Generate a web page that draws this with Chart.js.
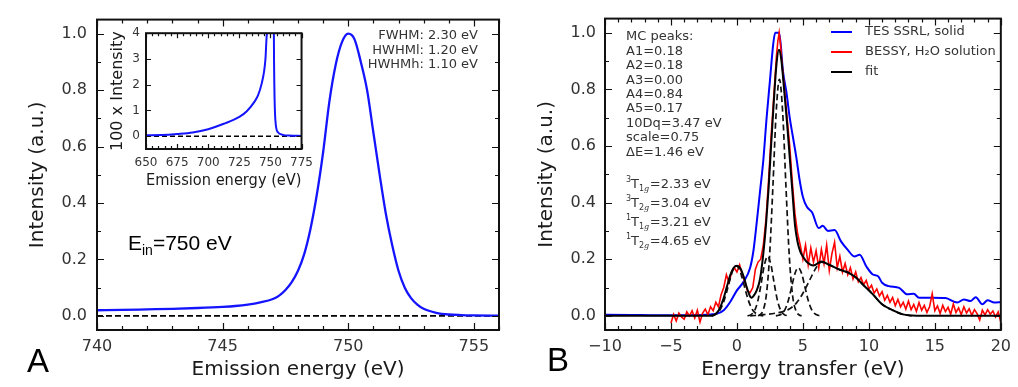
<!DOCTYPE html>
<html>
<head>
<meta charset="utf-8">
<script src="https://cdn.jsdelivr.net/npm/chart.js@4.4.1/dist/chart.umd.min.js"></script>
<style>
  html, body { margin: 0; padding: 0; background: #fff; }
  #wrap { position: relative; width: 1018px; height: 387px; }
  canvas { position: absolute; }
</style>
</head>
<body>
<div id="wrap">
  <canvas id="panelA" width="509" height="387" style="left:0;top:0"></canvas>
  <canvas id="inset" width="220" height="175" style="left:100px;top:20px"></canvas>
  <canvas id="panelB" width="509" height="387" style="left:509px;top:0"></canvas>
</div>
<script>
// ---- panel A: emission spectrum at Ein = 750 eV
const energyA = [740, 741, 742, 743, 744, 745, 745.5, 746, 746.5, 747, 747.25, 747.5, 747.75, 748, 748.25, 748.5, 748.75, 749, 749.25, 749.5, 749.75, 750, 750.25, 750.5, 750.75, 751, 751.25, 751.5, 751.75, 752, 752.25, 752.5, 752.75, 753, 753.5, 754, 754.5, 755, 756];
const intensityA = [0.020, 0.021, 0.023, 0.025, 0.028, 0.032, 0.035, 0.040, 0.048, 0.060, 0.072, 0.092, 0.12, 0.16, 0.22, 0.31, 0.43, 0.58, 0.76, 0.89, 0.97, 1.0, 0.98, 0.90, 0.80, 0.65, 0.50, 0.36, 0.25, 0.16, 0.10, 0.063, 0.040, 0.025, 0.011, 0.005, 0.003, 0.002, 0.001];
const ticksAx = [740, 745, 750, 755];
const ticksAy = [0, 0.2, 0.4, 0.6, 0.8, 1.0];

// ---- inset: 100 x intensity over a wide range
const insetEnergy = [650, 662.5, 675, 687.5, 700, 712.5, 725, 731, 737.5, 740, 743, 745, 746, 747, 747.5, 748.5, 750, 751.5, 752.5, 753, 754, 756, 760, 765, 775];
const insetIntensity = [0.03, 0.04, 0.08, 0.14, 0.27, 0.48, 0.75, 0.97, 1.36, 1.58, 2.05, 2.55, 3.0, 3.9, 4.8, 30, 100, 30, 6, 2.5, 0.6, 0.15, 0.05, 0.02, 0.01];
const ticksInsetX = [650, 675, 700, 725, 750, 775];
const ticksInsetY = [0, 1, 2, 3, 4];

// ---- panel B: energy transfer spectra
const tesX = [-10, -8, -6, -4, -3, -2, -1.5, -1, -0.5, 0, 0.5, 1, 1.25, 1.5, 1.75, 2, 2.25, 2.5, 2.75, 2.9, 3.2, 3.5, 3.75, 4, 4.25, 4.5, 4.75, 5, 5.3, 5.7, 6.2, 6.5, 6.9, 7.4, 7.9, 8.4, 8.9, 9.3, 9.8, 10.3, 10.7, 11, 11.5, 12.3, 12.9, 13.4, 13.8, 14.8, 15.8, 16.7, 17.2, 17.7, 18.1, 18.6, 19, 19.5, 20];
const tesY = [0.004, 0.003, 0.002, 0.002, 0.003, 0.005, 0.008, 0.02, 0.05, 0.09, 0.12, 0.17, 0.23, 0.33, 0.44, 0.55, 0.70, 0.83, 0.96, 1.0, 1.0, 0.86, 0.79, 0.70, 0.63, 0.56, 0.48, 0.42, 0.385, 0.365, 0.31, 0.318, 0.30, 0.303, 0.262, 0.233, 0.21, 0.216, 0.175, 0.146, 0.14, 0.117, 0.105, 0.099, 0.076, 0.078, 0.064, 0.064, 0.063, 0.047, 0.058, 0.052, 0.066, 0.041, 0.055, 0.047, 0.048];

const bessyX = [-5, -4.8, -4.6, -4.4, -4.2, -4, -3.8, -3.6, -3.4, -3.2, -3, -2.8, -2.6, -2.4, -2.2, -2, -1.8, -1.6, -1.4, -1.2, -1, -0.8, -0.6, -0.4, -0.2, 0, 0.2, 0.4, 0.6, 0.8, 1, 1.2, 1.4, 1.6, 1.8, 2, 2.2, 2.4, 2.6, 2.8, 3, 3.1, 3.2, 3.3, 3.4, 3.6, 3.8, 4, 4.2, 4.4, 4.6, 4.8,
  5, 5.2, 5.4, 5.6, 5.8, 6, 6.2, 6.4, 6.6, 6.8, 7, 7.2, 7.4, 7.6, 7.8, 8, 8.2, 8.4, 8.6, 8.8, 9, 9.2, 9.4, 9.6, 9.8, 10, 10.2, 10.4, 10.6, 10.8, 11, 11.2, 11.4, 11.6, 11.8, 12, 12.2, 12.4, 12.6, 12.8, 13, 13.2, 13.4, 13.6, 13.8, 14, 14.2, 14.4, 14.6, 14.8, 15, 15.2, 15.4, 15.6, 15.8, 16, 16.2, 16.4, 16.6, 16.8, 17, 17.2, 17.4, 17.6, 17.8, 18, 18.2, 18.4, 18.6, 18.8, 19, 19.2, 19.4, 19.6, 19.8, 20];
const bessyY = [-0.025, 0.005, -0.018, 0.01, -0.004, -0.012, 0.014, 0.0, 0.018, -0.008, 0.02, -0.022, 0.01, 0.024, 0.004, 0.032, 0.018, 0.048, 0.032, 0.075, 0.1, 0.145, 0.118, 0.155, 0.17, 0.155, 0.18, 0.148, 0.12, 0.088, 0.082, 0.1, 0.165, 0.19, 0.2, 0.25, 0.34, 0.48, 0.64, 0.78, 0.92, 0.97, 1.0, 0.96, 0.9, 0.8, 0.7, 0.6, 0.47, 0.36, 0.29, 0.25,
  0.2, 0.25, 0.18, 0.24, 0.19, 0.23, 0.17, 0.235, 0.185, 0.25, 0.16, 0.22, 0.26, 0.17, 0.21, 0.155, 0.185, 0.145, 0.17, 0.13, 0.155, 0.12, 0.135, 0.11, 0.125, 0.095, 0.108, 0.08, 0.095, 0.07, 0.085, 0.055, 0.072, 0.048, 0.065, 0.036, 0.058, 0.032, 0.048, 0.024, 0.052, 0.022, 0.04, 0.016, 0.047, 0.02, 0.037, 0.012, 0.032, 0.078, 0.018, 0.035, 0.008, 0.037, 0.015, 0.03, 0.006, 0.042, 0.012, 0.028, 0.004, 0.032, 0.01, 0.025, 0.002, 0.022, 0.008, -0.015, 0.02, 0.003, 0.022, 0.006, 0.017, -0.004, 0.014, -0.022];

const fitX = [-10, -2, -1.75, -1.5, -1.25, -1, -0.75, -0.5, -0.25, 0, 0.25, 0.5, 0.75, 1, 1.1, 1.25, 1.5, 1.75, 2, 2.2, 2.4, 2.6, 2.8, 3, 3.18, 3.35, 3.5, 3.65, 3.8, 4, 4.2, 4.4, 4.6, 4.8, 5, 5.3, 5.8, 6.4, 7, 7.8, 8.5, 9, 9.6, 10.3, 11, 11.8, 12.5, 13.3, 14, 20];
const fitY = [0, 0, 0.003, 0.012, 0.032, 0.064, 0.105, 0.145, 0.17, 0.177, 0.168, 0.14, 0.1, 0.068, 0.064, 0.07, 0.09, 0.13, 0.22, 0.32, 0.45, 0.61, 0.76, 0.89, 0.94, 0.91, 0.84, 0.76, 0.68, 0.56, 0.44, 0.32, 0.26, 0.227, 0.21, 0.19, 0.178, 0.192, 0.18, 0.163, 0.151, 0.136, 0.108, 0.076, 0.041, 0.02, 0.006, 0.001, 0, 0];

// multiplet components (dashed)
const peak1X = [-1.9, -1.6, -1.3, -1.05, -0.8, -0.55, -0.3, -0.05, 0.2, 0.45, 0.7, 0.95, 1.2, 1.45, 1.7, 2.0];
const peak1Y = [0, 0.005, 0.02, 0.044, 0.081, 0.125, 0.162, 0.177, 0.162, 0.125, 0.081, 0.044, 0.02, 0.008, 0.0025, 0];
const peak2X = [0.8, 1.08, 1.33, 1.58, 1.83, 2.08, 2.33, 2.58, 2.83, 3.08, 3.33, 3.58, 3.9];
const peak2Y = [0, 0.0045, 0.018, 0.052, 0.113, 0.18, 0.21, 0.18, 0.113, 0.052, 0.018, 0.0045, 0];
const peak3X = [1.6, 1.72, 1.97, 2.22, 2.47, 2.72, 2.97, 3.22, 3.47, 3.72, 3.97, 4.22, 4.47, 4.72, 4.9];
const peak3Y = [0, 0.003, 0.018, 0.071, 0.209, 0.451, 0.716, 0.835, 0.716, 0.451, 0.209, 0.071, 0.018, 0.003, 0];
const peak4X = [2.95, 3.15, 3.4, 3.65, 3.9, 4.15, 4.4, 4.65, 4.9, 5.15, 5.4, 5.65, 5.9, 6.15, 6.45];
const peak4Y = [0, 0.002, 0.0075, 0.023, 0.055, 0.103, 0.15, 0.17, 0.15, 0.103, 0.055, 0.023, 0.0075, 0.002, 0];
const peak5X = [1, 2, 3, 3.5, 4, 4.5, 5, 5.5, 6, 6.4, 7, 7.8, 8.5, 9, 9.6, 10.3, 11, 11.8, 12.5, 13.3];
const peak5Y = [0, 0.004, 0.01, 0.015, 0.025, 0.045, 0.08, 0.125, 0.17, 0.19, 0.18, 0.163, 0.151, 0.136, 0.108, 0.076, 0.041, 0.02, 0.006, 0];

const ticksBx = [-10, -5, 0, 5, 10, 15, 20];
const ticksBy = [0, 0.2, 0.4, 0.6, 0.8, 1.0];

const mcLines = ['MC peaks:', 'A1=0.18', 'A2=0.18', 'A3=0.00', 'A4=0.84', 'A5=0.17', '10Dq=3.47 eV', 'scale=0.75', '\u0394E=1.46 eV'];
const terms = [['3', '1', '=2.33 eV'], ['3', '2', '=3.04 eV'], ['1', '1', '=3.21 eV'], ['1', '2', '=4.65 eV']];
const widthLines = ['FWHM: 2.30 eV', 'HWHMl: 1.20 eV', 'HWHMh: 1.10 eV'];

Chart.defaults.font.family = "'DejaVu Sans', sans-serif";
Chart.defaults.animation = false;
Chart.defaults.events = [];
Chart.defaults.plugins.legend.display = false;
Chart.defaults.plugins.tooltip.enabled = false;

const pts = (xs, ys) => xs.map((x, i) => ({x: x, y: ys[i]}));
const range = (a, b, s) => { const r = []; for (let v = a; v <= b + 1e-9; v += s) r.push(+v.toFixed(4)); return r; };
const minus = v => (v < 0 ? '\u2212' + Math.abs(v) : '' + v);

function axis(o) {
  return {
    type: 'linear', min: o.min, max: o.max,
    afterBuildTicks: s => { s.ticks = o.ticks.map(v => ({value: v})); },
    afterFit: s => { if (o.w) s.width = o.w; if (o.h) s.height = o.h; },
    grid: {display: false, drawTicks: false},
    border: {display: false},
    ticks: {padding: o.pad, color: '#333', font: {size: o.fs}, maxRotation: 0, autoSkip: false, callback: o.fmt},
    title: {display: true, text: o.title, color: '#1a1a1a', font: {size: o.ts}, padding: o.tp}
  };
}

// inward tick marks on all four sides plus the black frame
const frame = {
  id: 'frame',
  afterDraw(chart, args, o) {
    const {ctx, chartArea: a} = chart;
    const sx = chart.scales.x, sy = chart.scales.y;
    ctx.save();
    ctx.strokeStyle = '#111';
    ctx.lineWidth = 1.2;
    ctx.beginPath();
    const xm = (vals, len) => vals.forEach(v => {
      const p = Math.round(sx.getPixelForValue(v)) + 0.5;
      ctx.moveTo(p, a.bottom); ctx.lineTo(p, a.bottom - len);
      ctx.moveTo(p, a.top); ctx.lineTo(p, a.top + len);
    });
    const ym = (vals, len) => vals.forEach(v => {
      const p = Math.round(sy.getPixelForValue(v)) + 0.5;
      ctx.moveTo(a.left, p); ctx.lineTo(a.left + len, p);
      ctx.moveTo(a.right, p); ctx.lineTo(a.right - len, p);
    });
    xm(o.xMajor, o.major); xm(o.xMinor, o.minor);
    ym(o.yMajor, o.major); ym(o.yMinor, o.minor);
    ctx.stroke();
    ctx.lineWidth = 2;
    ctx.strokeRect(a.left, a.top, a.right - a.left, a.bottom - a.top);
    ctx.restore();
  }
};

const dashed = (xs, ys) => ({data: pts(xs, ys), borderColor: '#111', borderWidth: 1.7, borderDash: [6, 3.5], pointRadius: 0, cubicInterpolationMode: 'monotone', order: 2});

// ---- Panel A
new Chart(document.getElementById('panelA'), {
  type: 'line',
  data: {datasets: [
    {data: pts(energyA, intensityA), borderColor: '#1414ff', borderWidth: 2.3, pointRadius: 0, cubicInterpolationMode: 'monotone'},
    {data: pts([740, 756], [0, 0]), borderColor: '#000', borderWidth: 1.6, borderDash: [6, 3], pointRadius: 0}
  ]},
  options: {
    responsive: false,
    layout: {padding: {left: 0, top: 15, right: 10, bottom: 0}},
    scales: {
      x: axis({min: 740, max: 756, ticks: ticksAx, pad: 7, fs: 16, h: 57, title: 'Emission energy (eV)', ts: 20, tp: {top: 0, bottom: 5}}),
      y: axis({min: -0.05, max: 1.05, ticks: ticksAy, pad: 10, fs: 16, w: 97, fmt: v => v.toFixed(1), title: 'Intensity (a.u.)', ts: 20, tp: {top: 26, bottom: 0}})
    },
    plugins: {frame: {xMajor: ticksAx, xMinor: range(741, 756, 1), yMajor: ticksAy, yMinor: [0.1, 0.3, 0.5, 0.7, 0.9], major: 7, minor: 4}}
  },
  plugins: [frame, {
    id: 'notesA',
    afterDraw(chart) {
      const ctx = chart.ctx;
      ctx.save();
      ctx.fillStyle = '#333';
      ctx.font = "13px 'DejaVu Sans'";
      ctx.textAlign = 'right';
      ctx.textBaseline = 'middle';
      widthLines.forEach((t, i) => ctx.fillText(t, 478, 36 + i * 14.5));
      ctx.textAlign = 'left';
      ctx.textBaseline = 'alphabetic';
      ctx.fillStyle = '#000';
      let x = 128;
      ctx.font = "21px 'Liberation Sans'";
      ctx.fillText('E', x, 250); x += ctx.measureText('E').width;
      ctx.font = "14px 'Liberation Sans'";
      ctx.fillText('in', x, 255); x += ctx.measureText('in').width;
      ctx.font = "21px 'Liberation Sans'";
      ctx.fillText('=750 eV', x, 250);
      ctx.font = "33px 'Liberation Sans'";
      ctx.fillText('A', 27, 372);
      ctx.restore();
    }
  }]
});

// ---- Inset
new Chart(document.getElementById('inset'), {
  type: 'line',
  data: {datasets: [
    {data: pts(insetEnergy, insetIntensity), borderColor: '#1414ff', borderWidth: 2, pointRadius: 0, cubicInterpolationMode: 'monotone'},
    {data: pts([650, 775], [0, 0]), borderColor: '#000', borderWidth: 1.5, borderDash: [5, 3], pointRadius: 0}
  ]},
  options: {
    responsive: false,
    layout: {padding: {left: 0, top: 13, right: 18, bottom: 0}},
    scales: {
      x: axis({min: 650, max: 775, ticks: ticksInsetX, pad: 7, fs: 12, h: 46, title: 'Emission energy (eV)', ts: 16, tp: {top: 0, bottom: 5}}),
      y: axis({min: -0.5, max: 4, ticks: ticksInsetY, pad: 6, fs: 12, w: 46, title: '100 x Intensity', ts: 16, tp: {top: 8, bottom: 0}})
    },
    plugins: {frame: {xMajor: ticksInsetX, xMinor: range(655, 770, 5), yMajor: ticksInsetY, yMinor: [], major: 5, minor: 3}}
  },
  plugins: [frame]
});

// ---- Panel B
new Chart(document.getElementById('panelB'), {
  type: 'line',
  data: {datasets: [
    {label: 'TES SSRL, solid', data: pts(tesX, tesY), borderColor: '#0000ff', borderWidth: 2, pointRadius: 0, cubicInterpolationMode: 'monotone', order: 5},
    {label: 'BESSY, H\u2082O solution', data: pts(bessyX, bessyY), borderColor: '#ff0000', borderWidth: 1.6, pointRadius: 0, tension: 0, order: 4},
    {label: 'fit', data: pts(fitX, fitY), borderColor: '#000', borderWidth: 2, pointRadius: 0, cubicInterpolationMode: 'monotone', order: 1},
    dashed(peak1X, peak1Y),
    dashed(peak2X, peak2Y),
    dashed(peak3X, peak3Y),
    dashed(peak4X, peak4Y),
    dashed(peak5X, peak5Y)
  ]},
  options: {
    responsive: false,
    layout: {padding: {left: 0, top: 15, right: 11, bottom: 0}},
    scales: {
      x: axis({min: -10, max: 20, ticks: ticksBx, pad: 7, fs: 16, h: 57, fmt: minus, title: 'Energy transfer (eV)', ts: 20, tp: {top: 0, bottom: 5}}),
      y: axis({min: -0.05, max: 1.05, ticks: ticksBy, pad: 9, fs: 16, w: 96, fmt: v => v.toFixed(1), title: 'Intensity (a.u.)', ts: 20, tp: {top: 26, bottom: 0}})
    },
    plugins: {frame: {xMajor: ticksBx, xMinor: range(-9, 19, 1), yMajor: ticksBy, yMinor: [0.1, 0.3, 0.5, 0.7, 0.9], major: 7, minor: 4}}
  },
  plugins: [frame, {
    id: 'notesB',
    afterDraw(chart) {
      const ctx = chart.ctx;
      ctx.save();
      // legend
      ctx.font = "13px 'DejaVu Sans'";
      ctx.textBaseline = 'middle';
      chart.data.datasets.filter(d => d.label).forEach((d, i) => {
        const y = 32 + i * 20;
        ctx.strokeStyle = d.borderColor;
        ctx.lineWidth = 2;
        ctx.beginPath(); ctx.moveTo(322, y); ctx.lineTo(343, y); ctx.stroke();
        ctx.fillStyle = '#333';
        ctx.fillText(d.label, 356, y);
      });
      // fit parameters
      ctx.fillStyle = '#333';
      mcLines.forEach((t, i) => ctx.fillText(t, 117, 37 + i * 14.4));
      ctx.textBaseline = 'alphabetic';
      terms.forEach((t, i) => {
        const base = 188 + i * 19;
        let x = 117;
        ctx.font = "8px 'DejaVu Sans'";
        ctx.fillText(t[0], x, base - 6); x += ctx.measureText(t[0]).width;
        ctx.font = "13px 'DejaVu Sans'";
        ctx.fillText('T', x, base); x += ctx.measureText('T').width;
        ctx.font = "8px 'DejaVu Sans'";
        ctx.fillText(t[1], x, base + 3); x += ctx.measureText(t[1]).width;
        ctx.font = "italic 8px 'DejaVu Serif'";
        ctx.fillText('g', x, base + 3); x += ctx.measureText('g').width + 0.5;
        ctx.font = "13px 'DejaVu Sans'";
        ctx.fillText(t[2], x, base);
      });
      ctx.fillStyle = '#000';
      ctx.font = "33px 'Liberation Sans'";
      ctx.fillText('B', 38, 371);
      ctx.restore();
    }
  }]
});
</script>
</body>
</html>
